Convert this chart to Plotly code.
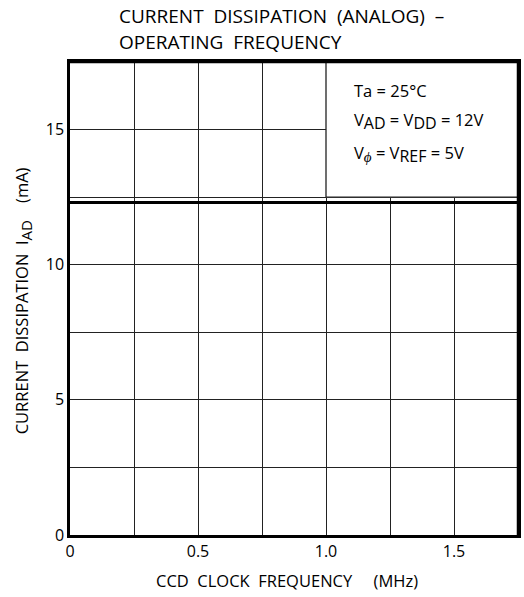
import plotly.graph_objects as go

# Data
freq_mhz = [0.0, 1.75]
current_ma = [12.3, 12.3]

x_tick_vals = [0, 0.25, 0.5, 0.75, 1.0, 1.25, 1.5, 1.75]
x_tick_text = ["0", "", "0.5", "", "1.0", "", "1.5", ""]
y_tick_vals = [0, 2.5, 5, 7.5, 10, 12.5, 15, 17.5]
y_tick_text = ["0", "", "5", "", "10", "", "15", ""]

SUB = '<sub><span style="font-size:{}px">{}</span></sub>'
conditions = ["Ta = 25°C",
              "V" + SUB.format(16, "AD") + " = V" + SUB.format(16, "DD") + " = 12V",
              "V" + SUB.format(15, "<i>ϕ</i>") + " = V" + SUB.format(16, "REF") + " = 5V"]

FONT = "Open Sans"

fig = go.Figure()
fig.add_trace(go.Scatter(x=freq_mhz, y=current_ma, mode="lines",
                         line=dict(color="black", width=3), showlegend=False,
                         hoverinfo="skip"))

fig.update_layout(
    width=524, height=597,
    margin=dict(l=70, r=3, t=62, b=62),
    paper_bgcolor="white", plot_bgcolor="white",
    font=dict(family=FONT, color="black", size=14),
    showlegend=False,
)
fig.update_xaxes(range=[0, 1.75], tickvals=x_tick_vals, ticktext=x_tick_text,
                 showgrid=True, gridcolor="#222", gridwidth=1.3,
                 showline=True, linecolor="black", linewidth=2.5, mirror=True,
                 ticks="", zeroline=False, tickfont=dict(size=16))
fig.update_yaxes(range=[0, 17.5], tickvals=y_tick_vals, ticktext=y_tick_text,
                 showgrid=True, gridcolor="#222", gridwidth=1.3,
                 showline=True, linecolor="black", linewidth=2.5, mirror=True,
                 ticks="", zeroline=False, tickfont=dict(size=16))

# white box with conditions
fig.add_shape(type="rect", xref="x", yref="y", x0=1.0, x1=1.75, y0=12.5, y1=17.5,
              fillcolor="white", line=dict(color="#222", width=1.3), layer="above")
fig.add_shape(type="line", xref="paper", yref="paper", x0=0, x1=1, y0=1, y1=1,
              line=dict(color="black", width=2.5), layer="above")
fig.add_shape(type="line", xref="paper", yref="paper", x0=1, x1=1, y0=0, y1=1,
              line=dict(color="black", width=2.5), layer="above")

cond_y = [90, 121, 154]
for t, yy in zip(conditions, cond_y):
    fig.add_annotation(text=t, xref="paper", yref="paper",
                       x=(354 - 70) / 451, y=1 - (yy - 62) / 473,
                       xanchor="left", yanchor="middle", showarrow=False,
                       font=dict(size=16.5, family=FONT))

# title
fig.add_annotation(text="CURRENT  DISSIPATION  (ANALOG)  –", xref="paper", yref="paper",
                   x=(117 - 70) / 451, y=1 - (16 - 62) / 473, xanchor="left", yanchor="middle",
                   showarrow=False, font=dict(size=19, family=FONT))
fig.add_annotation(text="OPERATING  FREQUENCY", xref="paper", yref="paper",
                   x=(117 - 70) / 451, y=1 - (42 - 62) / 473, xanchor="left", yanchor="middle",
                   showarrow=False, font=dict(size=19, family=FONT))

# axis titles
fig.add_annotation(text="CCD  CLOCK  FREQUENCY  \u00a0\u00a0\u00a0(MHz)", xref="paper", yref="paper",
                   x=(288 - 70) / 451, y=1 - (580 - 62) / 473, xanchor="center", yanchor="middle",
                   showarrow=False, font=dict(size=16.5, family=FONT))
fig.add_annotation(text="CURRENT  DISSIPATION  I" + SUB.format(15, "AD") + "  \u00a0\u00a0(mA)",
                   xref="paper", yref="paper",
                   x=(22 - 70) / 451, y=1 - (301 - 62) / 473, xanchor="center", yanchor="middle",
                   textangle=-90, showarrow=False, font=dict(size=16.5, family=FONT))

fig.write_html("out.html", config={"displayModeBar": False},
               post_script="document.body.style.margin='0';")
